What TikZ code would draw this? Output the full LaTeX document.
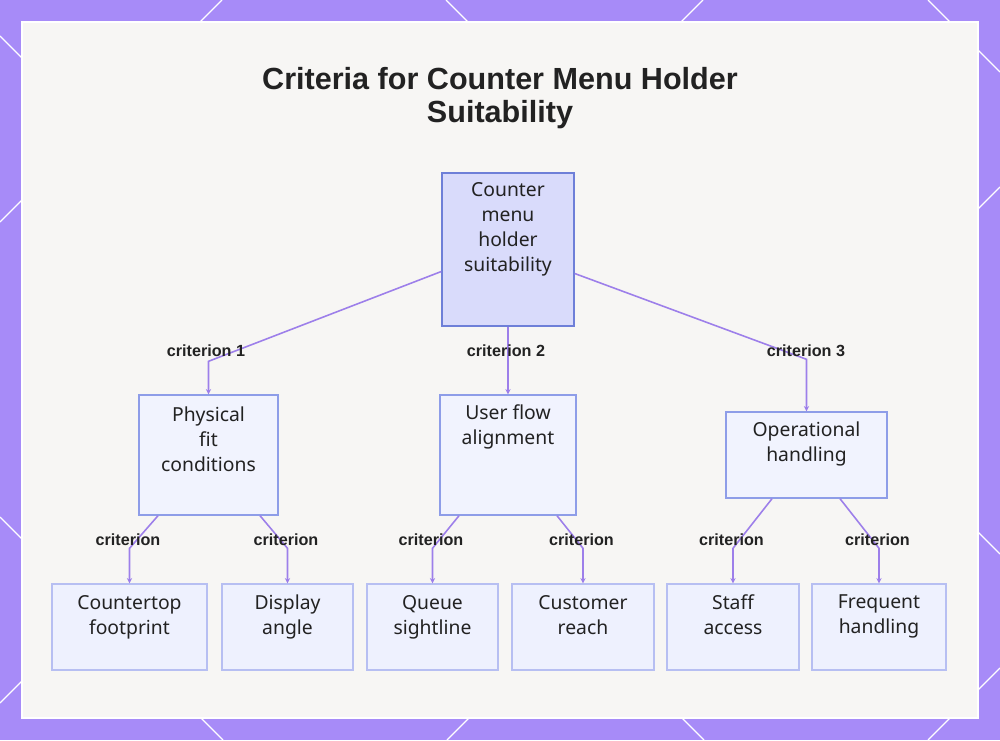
\documentclass[tikz,border=0pt]{standalone}
\usepackage{fontspec}
\setmainfont{Noto Sans}[BoldFont={Liberation Sans Bold}]
\usetikzlibrary{positioning,arrows.meta,calc}

\definecolor{bgpurple}{HTML}{A78BF8}
\definecolor{panelbg}{HTML}{F7F6F4}
\definecolor{rootfill}{HTML}{D9DBFB}
\definecolor{rootline}{HTML}{6E7FD8}
\definecolor{midfill}{HTML}{F1F3FE}
\definecolor{midline}{HTML}{8E9DE8}
\definecolor{leaffill}{HTML}{EEF1FE}
\definecolor{leafline}{HTML}{B7BFF2}
\definecolor{edgecol}{HTML}{9D7FEA}
\definecolor{inkcol}{HTML}{222222}

\begin{document}
\begin{tikzpicture}[
    x=0.02cm, y=-0.02cm,
    latline/.style={draw=white, line width=0.7pt},
    box/.style={rectangle, align=center, text=inkcol, line width=0.8pt,
      font=\fontsize{11}{14.2}\selectfont},
    rootbox/.style={box, draw=rootline, fill=rootfill},
    midbox/.style={box, draw=midline, fill=midfill},
    leafbox/.style={box, draw=leafline, fill=leaffill, minimum height=1.72cm},
    crit/.style={font=\fontsize{9.2}{11}\selectfont\bfseries, text=inkcol, inner sep=1pt},
    edge/.style={draw=edgecol, line width=0.9pt, -{Stealth[length=3pt,width=3pt]}}
  ]

  % Background
  \useasboundingbox (0,0) rectangle (1000,740);
  \fill[bgpurple] (0,0) rectangle (1000,740);
  \draw[latline] (222,0) -- (0,222);
  \draw[latline] (446,0) -- (1000,554);
  \draw[latline] (703,0) -- (0,703);
  \draw[latline] (928,0) -- (1000,72);
  \draw[latline] (0,517) -- (223,740);
  \draw[latline] (1000,187) -- (447,740);
  \draw[latline] (0,36) -- (704,740);
  \draw[latline] (1000,668) -- (928,740);
  \draw[white, fill=panelbg, line width=1pt] (22,22) rectangle (978,718);

  % Title
  \node[font=\fontsize{17.4}{18.4}\selectfont\bfseries, text=inkcol, align=center] (title) at (500,98)
    {Criteria for Counter Menu Holder\\Suitability};

  % Root
  \node[rootbox, minimum width=2.64cm, minimum height=3.06cm] (root) at (508,249.5)
    {Counter\\menu\\holder\\suitability\\[11pt]~};

  % Criteria
  \node[midbox, minimum width=2.78cm, minimum height=2.4cm] (physical) at (208.5,455)
    {Physical\\fit\\conditions\\[4pt]~};
  \node[midbox, minimum width=2.72cm, minimum height=2.4cm] (userflow) at (508,455)
    {User flow\\alignment\\[20pt]~};
  \node[midbox, minimum width=3.22cm, minimum height=1.72cm] (oper) at (806.5,455)
    {Operational\\handling\\[1pt]~};

  % Sub-criteria
  \node[leafbox, minimum width=3.10cm] (count) at (129.5,627) {Countertop\\footprint\\~};
  \node[leafbox, minimum width=2.62cm] (display) at (287.5,627) {Display\\angle\\~};
  \node[leafbox, minimum width=2.62cm] (queue) at (432.5,627) {Queue\\sightline\\~};
  \node[leafbox, minimum width=2.84cm] (reach) at (583,627) {Customer\\reach\\~};
  \node[leafbox, minimum width=2.64cm] (staff) at (733,627) {Staff\\access\\~};
  \node[leafbox, minimum width=2.68cm] (freq) at (879,627) {Frequent\\handling\\~};

  % Root links
  \draw[edge] ($(root.west)+(0,22)$) -- ($(physical.north)+(0,-33)$) -- (physical.north);
  \draw[edge] (root.south) -- (userflow.north);
  \draw[edge] ($(root.east)+(0,24)$) -- ($(oper.north)+(0,-52)$) -- (oper.north);
  \node[crit] (c1) at (206,351) {criterion 1};
  \node[crit] (c2) at (506,351) {criterion 2};
  \node[crit] (c3) at (806,351) {criterion 3};

  % Sub links
  \draw[edge] ($(physical.south)+(-50.5,0)$) -- ($(count.north)+(0,-35)$) -- (count.north);
  \draw[edge] ($(physical.south)+(51.5,0)$) -- ($(display.north)+(0,-35)$) -- (display.north);
  \draw[edge] ($(userflow.south)+(-49,0)$) -- ($(queue.north)+(0,-35)$) -- (queue.north);
  \draw[edge] ($(userflow.south)+(49,0)$) -- ($(reach.north)+(0,-35)$) -- (reach.north);
  \draw[edge] ($(oper.south)+(-34.5,0)$) -- ($(staff.north)+(0,-35)$) -- (staff.north);
  \draw[edge] ($(oper.south)+(33.5,0)$) -- ($(freq.north)+(0,-35)$) -- (freq.north);
  \foreach \leaf in {count,display,queue,reach,staff,freq}
    \node[crit] (lab-\leaf) at ($(\leaf.north)+(-1.5,-44)$) {criterion};

\end{tikzpicture}
\end{document}
